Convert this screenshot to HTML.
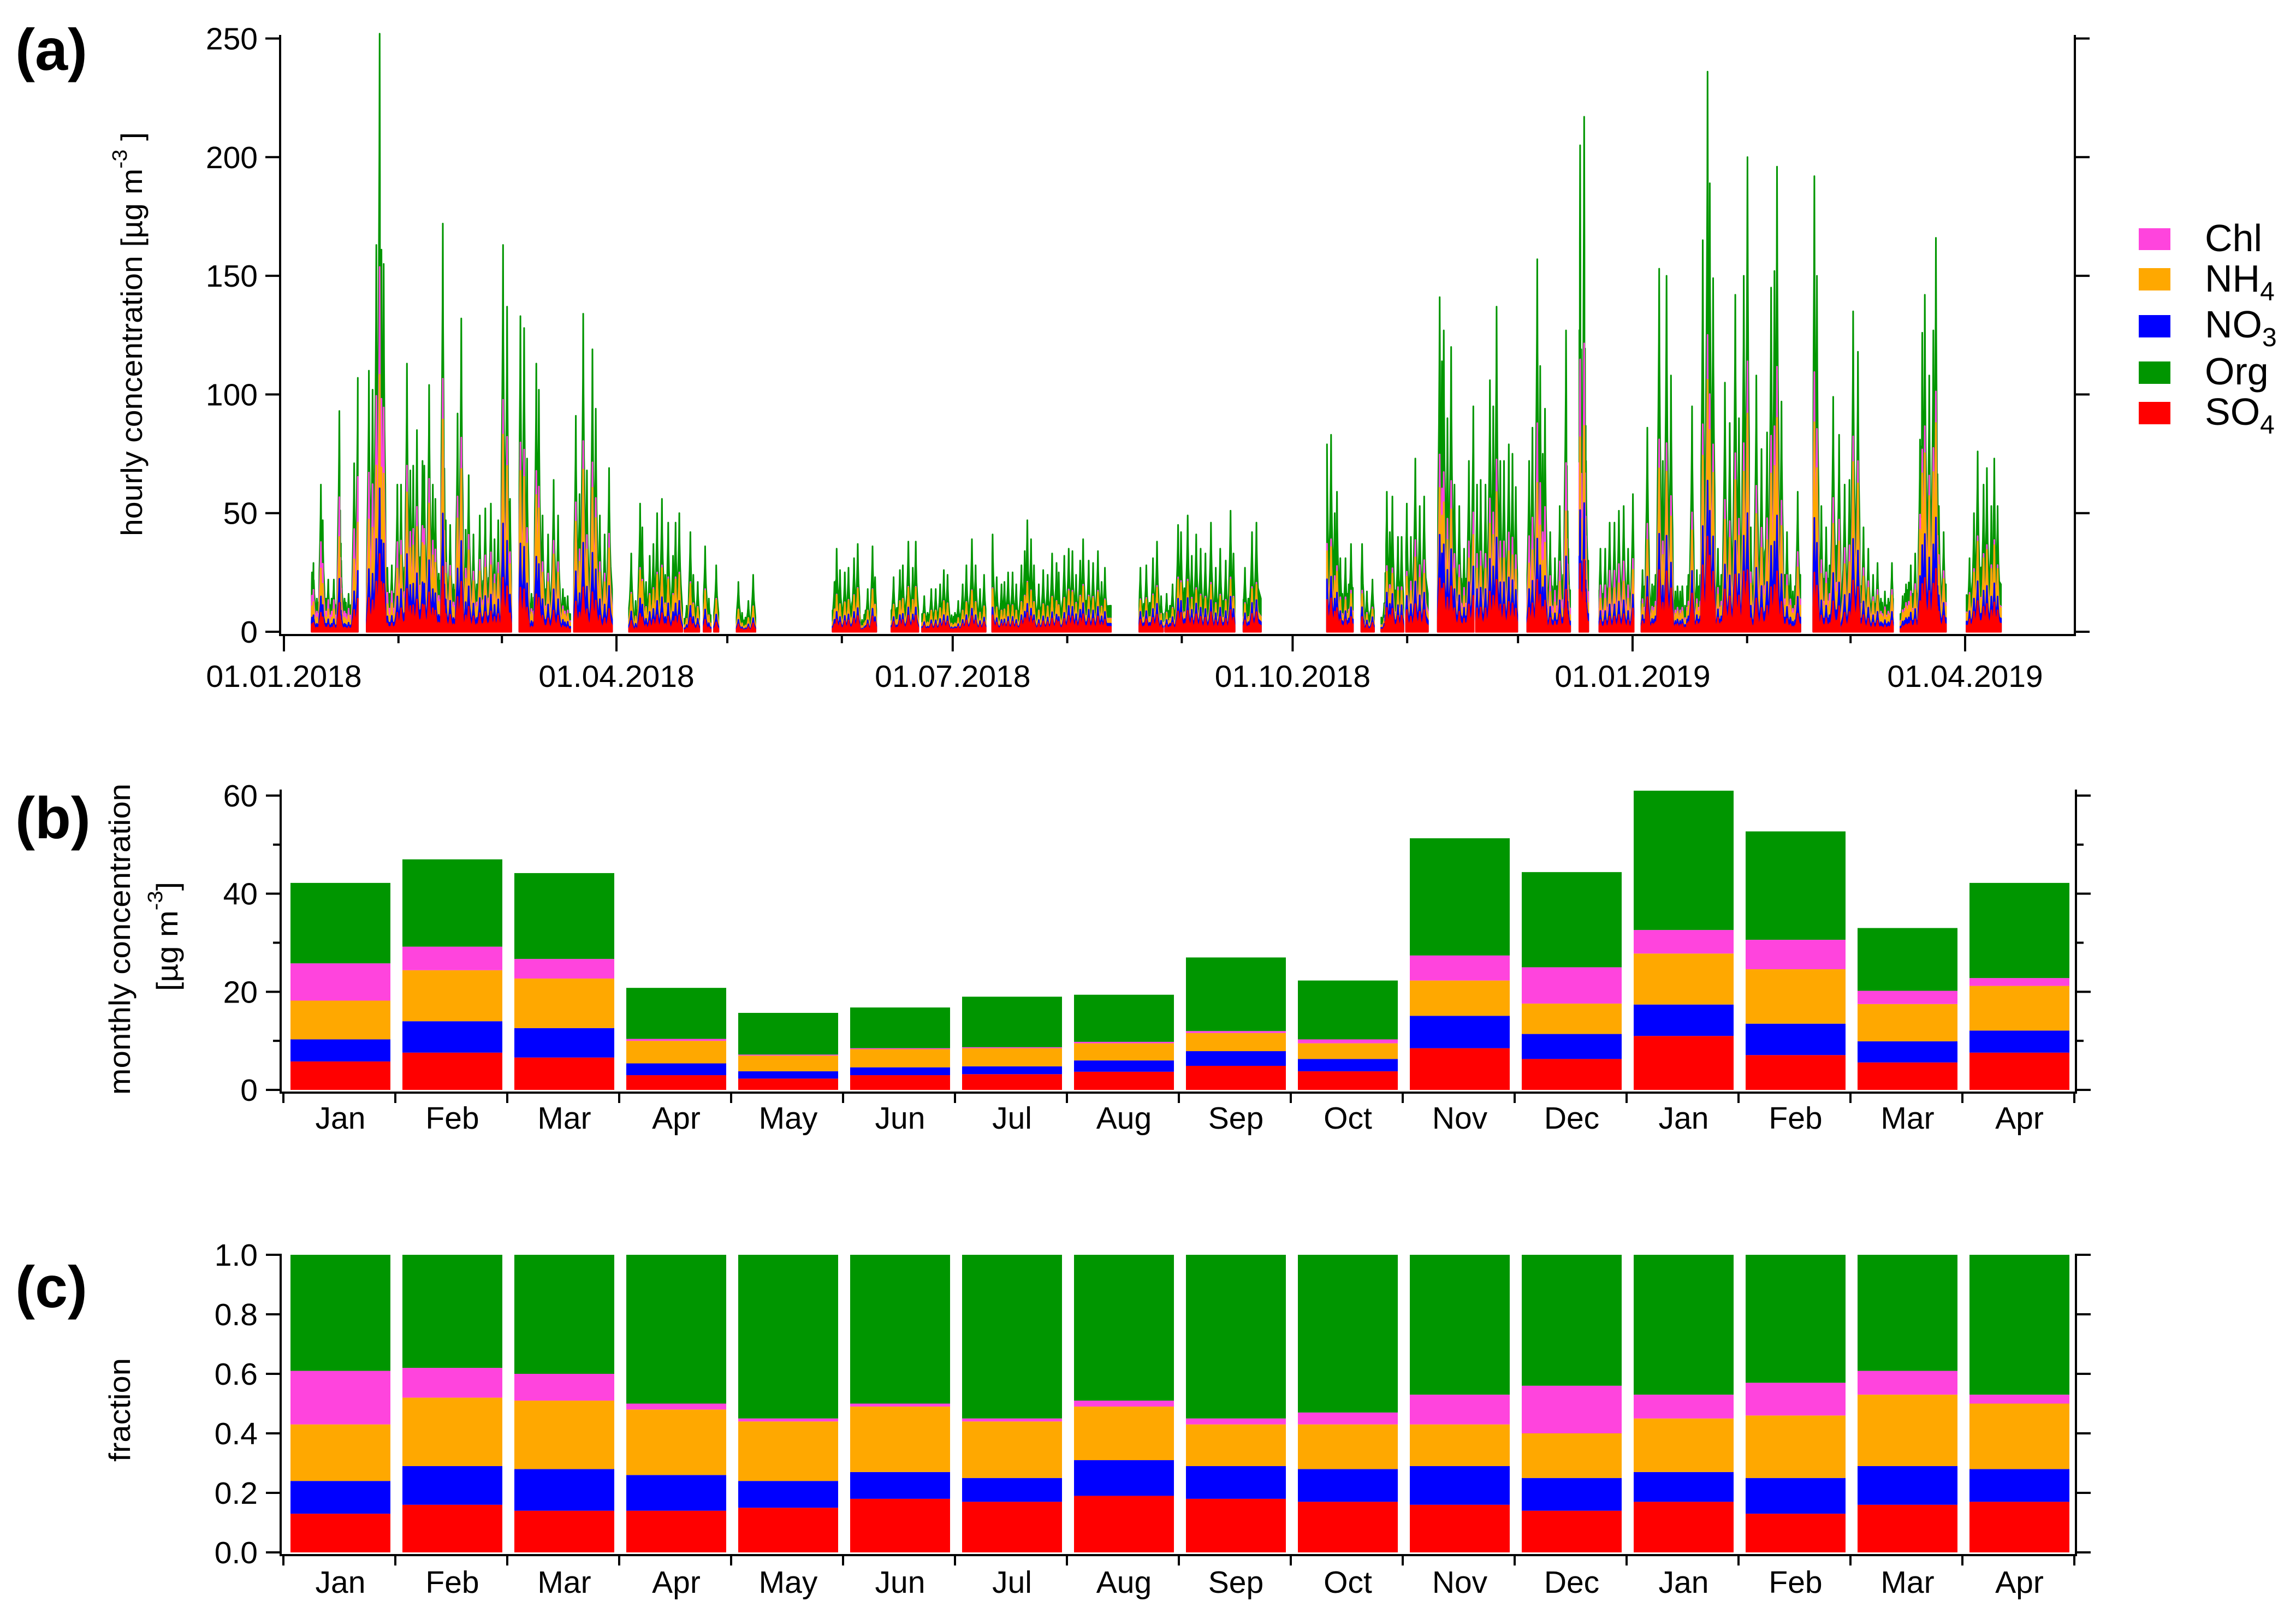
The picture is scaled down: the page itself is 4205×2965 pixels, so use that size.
<!DOCTYPE html>
<html><head><meta charset="utf-8"><style>
html,body{margin:0;padding:0;background:#fff;}
svg{display:block;font-family:"Liberation Sans",Arial,sans-serif;}
</style></head><body>
<svg id="fig" width="4205" height="2965" viewBox="0 0 4205 2965" xmlns="http://www.w3.org/2000/svg">
<g id="static">
<text x="28" y="128" font-size="108" font-weight="bold">(a)</text>
<text x="28" y="1535" font-size="108" font-weight="bold">(b)</text>
<text x="28" y="2394" font-size="108" font-weight="bold">(c)</text>
<text transform="translate(260,612) rotate(-90)" text-anchor="middle" font-size="55" textLength="740" lengthAdjust="spacingAndGlyphs">hourly concentration [µg m<tspan dy="-28" font-size="38">-3</tspan><tspan dy="28"> ]</tspan></text>
<text transform="translate(238,1720) rotate(-90)" text-anchor="middle" font-size="55" textLength="570" lengthAdjust="spacingAndGlyphs">monthly concentration</text>
<text transform="translate(325,1715) rotate(-90)" text-anchor="middle" font-size="55" textLength="200" lengthAdjust="spacingAndGlyphs">[µg m<tspan dy="-28" font-size="38">-3</tspan><tspan dy="28">]</tspan></text>
<text transform="translate(238,2582) rotate(-90)" text-anchor="middle" font-size="55" textLength="190" lengthAdjust="spacingAndGlyphs">fraction</text>
<g>
<rect x="3917" y="418" width="58" height="40" fill="#ff44dd"/>
<text x="4038" y="460" font-size="70">Chl</text>
<rect x="3917" y="491" width="58" height="41" fill="#ffa800"/>
<text x="4038" y="534" font-size="70">NH<tspan dy="16" font-size="48">4</tspan></text>
<rect x="3917" y="577" width="58" height="41" fill="#0000ff"/>
<text x="4038" y="618" font-size="70">NO<tspan dy="16" font-size="48">3</tspan></text>
<rect x="3917" y="662" width="58" height="41" fill="#009600"/>
<text x="4038" y="704" font-size="70">Org</text>
<rect x="3917" y="736" width="58" height="41" fill="#ff0000"/>
<text x="4038" y="778" font-size="70">SO<tspan dy="16" font-size="48">4</tspan></text>
</g>
</g>
</svg>
<script>
// ---- monthly concentrations (panel b), µg m-3 ----
const months = ["Jan","Feb","Mar","Apr","May","Jun","Jul","Aug","Sep","Oct","Nov","Dec","Jan","Feb","Mar","Apr"];
const so4 = [5.8,7.6,6.6,3.0,2.3,3.0,3.2,3.7,4.9,3.8,8.5,6.3,11.0,7.1,5.6,7.6];
const no3 = [4.5,6.4,6.0,2.4,1.5,1.6,1.6,2.3,3.0,2.5,6.6,5.1,6.4,6.4,4.3,4.5];
const nh4 = [7.9,10.4,10.1,4.6,3.2,3.7,3.7,3.5,3.7,3.2,7.2,6.2,10.4,11.1,7.6,9.1];
const chl = [7.6,4.8,4.0,0.4,0.2,0.2,0.2,0.3,0.4,0.8,5.1,7.4,4.8,6.0,2.7,1.6];
const org = [16.4,17.8,17.5,10.4,8.5,8.3,10.3,9.6,15.0,12.0,23.9,19.4,28.4,22.1,12.8,19.4];
// ---- monthly fractions (panel c) ----
const so4f = [.13,.16,.14,.14,.15,.18,.17,.19,.18,.17,.16,.14,.17,.13,.16,.17];
const no3f = [.11,.13,.14,.12,.09,.09,.08,.12,.11,.11,.13,.11,.10,.12,.13,.11];
const nh4f = [.19,.23,.23,.22,.20,.22,.19,.18,.14,.15,.14,.15,.18,.21,.24,.22];
const chlf = [.18,.10,.09,.02,.01,.01,.01,.02,.02,.04,.10,.16,.08,.11,.08,.03];
const orgf = [.39,.38,.40,.50,.55,.50,.55,.49,.55,.53,.47,.44,.47,.43,.39,.47];
// ---- hourly panel (a): measurement periods (days since 01.01.2018) ----
const segStart = [7.5,22.4,63.7,78.5,93.4,108.4,113.6,116.4,122.5,148.5,164.4,172.7,191.7,231.5,238.5,259.7,282.3,291.6,297,303.7,312.3,322.6,336.5,350.6,356,367.4,413.9,421.5,437.5,455.4];
const segEnd = [20,61.5,77.5,88.8,107.8,112.4,115.5,117.6,127.6,160.3,171.7,189.9,223.8,237.9,257.3,264.4,289.3,295,303,309.6,322,333.8,348.1,353,365.3,410.4,421.3,435.5,449.8,464.7];
const segBase = [14,20,18,18,10,6,8,8,6,9,9,8,11,9,11,14,20,8,10,16,28,24,24,30,20,24,28,14,20,20];
const peakDay = [7.6,8,10,10.5,12,13.5,15,15.5,17.5,19,20,
23,24,25,25.9,26.4,27,28,29.2,30.7,31.7,33.3,34.2,35,36,37.5,38,39.3,40.3,41,43,43.8,45,47,48,49.2,50,51.3,53,54.5,56,57,58,59.3,60.4,61.2,
64,65,65.8,67,68.3,69,70,71.5,73,74.2,75.5,76.8,
79,80,81,82,83.5,84.4,85.5,86.8,88,
94,95.2,96.4,97,98,99,100,101,102.3,103.2,104,105.3,106,107,
109,110,110.8,112,114,115,117,
123,124,125.7,127,
149,149.6,150.5,151.8,152.8,154.3,155.3,156.5,158,159.3,160,
165,166.7,167.5,169,170.2,171,
173.3,175.2,176.4,177.6,178.6,179.6,180.7,182.5,183.7,184.7,186.2,187.2,188.4,189.5,
191.8,192.9,194.2,195,196,197.2,198.2,199.6,200.5,201.2,202.2,203,204.3,205.5,206.7,207.9,209.1,209.7,211.2,212.4,213.4,214.4,215.5,216.3,217.8,219,220.3,221.3,222.2,
231.8,233.4,235.2,236.3,237.4,
238.9,240.5,242,242.8,244.6,245.7,246.9,248.1,249.4,250.9,252.2,253.4,254.9,256.2,257,
260.1,262,263.2,
282.3,283.4,284.4,285,285.9,287.3,288.8,
291.8,293.1,294.6,
297.8,298.5,299.3,300,301.5,302.5,
303.9,305,306.2,307.4,308.6,
312.8,313.4,313.9,314.9,315.9,316.8,318.1,319.4,320.7,321.9,
322.9,323.9,325.2,326.4,327.3,328.2,329.2,330.2,331.5,332.5,333.4,
337,337.9,339.2,340,340.7,341.3,342.7,344,345.3,347,347.6,
350.8,351.1,351.9,352.4,
356.3,357.6,358.8,360.1,361.3,362.6,363.8,365.1,
367.7,369,370.3,372.2,373.2,374.2,375.4,376.6,377.9,379.2,381.1,382.4,384,385.3,385.9,386.8,388.1,390,391.3,392.8,393.8,395.1,396.1,397,398.5,399.9,401.4,402.5,403.4,404.1,405.3,406.8,408.4,409.7,
414.2,414.9,416.1,417.4,419.3,420.9,
422.4,423.7,424.7,426,427.5,428.8,430.1,431.3,433.3,435.2,
438.1,440.3,441.5,442.8,443.4,444.1,445.3,446.4,447.1,447.9,449.2,
456.2,457.4,458.4,460,460.9,462.1,462.9,463.8];
const peakVal = [25,29,62,47,22,22,93,30,16,71,107,
110,102,163,252,161,155,27,28,62,62,113,68,70,85,72,70,104,62,56,172,47,45,92,132,43,66,41,49,52,54,39,47,163,137,56,
133,128,73,16,113,102,49,41,64,49,18,15,
91,58,134,68,119,94,49,41,69,
33,13,54,44,21,32,37,50,56,24,46,32,46,50,
11,42,24,21,36,14,28,
21,8,13,24,
21,35,26,25,27,31,37,5,18,36,23,
23,26,28,38,27,38,
15,18,18,20,26,24,7,13,20,28,39,28,18,24,
41,23,20,21,25,25,20,28,34,47,39,28,20,26,24,33,29,25,32,35,34,24,30,39,30,29,34,21,27,
27,28,31,38,15,
16,20,45,42,49,32,41,35,33,46,27,35,30,51,33,
27,42,46,
79,83,50,59,31,31,37,
37,17,22,
12,59,42,57,40,40,
54,40,73,53,57,
141,114,127,90,120,62,53,35,72,95,
62,64,62,106,95,137,72,72,79,75,61,
72,86,157,112,75,94,42,31,53,127,35,
205,119,217,72,
35,35,46,46,51,53,35,58,
26,86,20,153,72,150,108,17,17,11,95,26,165,236,189,149,35,105,88,142,90,150,200,44,108,77,84,145,152,196,97,42,17,59,
192,150,53,44,99,83,
62,64,135,118,44,35,24,29,17,29,
15,28,33,81,126,142,108,127,166,53,42,
31,50,76,62,69,53,73,53];
const yTicksA = [0,50,100,150,200,250];
const quarterDays = [0,90,181,273,365,455];
const quarterLabels = ["01.01.2018","01.04.2018","01.07.2018","01.10.2018","01.01.2019","01.04.2019"];
const yTicksB = [0,20,40,60];
const yTicksC = ["0.0","0.2","0.4","0.6","0.8","1.0"];

const NS = "http://www.w3.org/2000/svg";
const svg = document.getElementById("fig");
const COL = {so4:"#ff0000",no3:"#0000ff",nh4:"#ffa800",chl:"#ff44dd",org:"#009600"};
function mk(tag, attrs, parent){const e=document.createElementNS(NS,tag);for(const k in attrs)e.setAttribute(k,attrs[k]);(parent||svg).appendChild(e);return e;}

const xA = d => 520 + 6.767*d;
const yA = v => 1157 - 4.346*v;
const xB = i => 532 + 205*i;
const yB = v => 1996 - 8.983*v;
const yC = f => 2843 - 545*f;
const BW = 183;

function monthIdx(d){const dt=new Date(2018,0,1+Math.floor(d));return Math.min(15,Math.max(0,(dt.getFullYear()-2018)*12+dt.getMonth()));}
function cumFrac(m, layer){
  const parts=[so4f[m],no3f[m],nh4f[m],chlf[m],orgf[m]];
  const tot=parts.reduce((a,b)=>a+b,0);
  let s=0;for(let k=0;k<=layer;k++)s+=parts[k];
  return s/tot;
}

// ---------- panel (a) ----------
const gA = mk("g",{});


const layerNames=["so4","no3","nh4","chl","org"];
const wig=[1.0,0.7,1.25,0.85,1.1,0.6,1.3,0.9];
for(let s=0;s<segStart.length;s++){
  const a=segStart[s], b=segEnd[s], base=segBase[s];
  const pk=[];
  for(let p=0;p<peakDay.length;p++){const d=peakDay[p]; if(d>=a&&d<=b) pk.push([d,peakVal[p]]);}
  pk.sort((p,q)=>p[0]-q[0]);
  const pts=[[a,pk.length?Math.min(base,pk[0][1]*0.5):base]];
  for(let i=0;i<pk.length;i++){
    const [d,v]=pk[i];
    pts.push([Math.max(a,d-0.4),v*0.42],[Math.max(a,d-0.2),v*0.62],[Math.max(a,d-0.07),v*0.8],[d,v],[Math.min(b,d+0.08),v*0.75],[Math.min(b,d+0.22),v*0.55],[Math.min(b,d+0.42),v*0.4]);
    if(i<pk.length-1){
      const nd=pk[i+1][0], nv=pk[i+1][1];
      const gap=nd-d;
      const lv=Math.max(base*0.8,Math.min(v,nv)*0.35);
      let k=0;
      for(let t=0.55;t<gap-0.5;t+=0.18){
        pts.push([d+t,lv*wig[k%wig.length]]);k++;
      }
    }
  }
  pts.push([b,pk.length?Math.min(base,pk[pk.length-1][1]*0.5):base]);
  pts.sort((p,q)=>p[0]-q[0]);
  for(let L=4;L>=0;L--){
    let dstr="M"+xA(a).toFixed(1)+","+yA(0).toFixed(1);
    for(const [d,v] of pts){dstr+=" L"+xA(d).toFixed(1)+","+yA(v*cumFrac(monthIdx(d),L)).toFixed(1);}
    dstr+=" L"+xA(b).toFixed(1)+","+yA(0).toFixed(1)+" Z";
    const path=mk("path",{d:dstr,fill:COL[layerNames[L]],stroke:COL[layerNames[L]],"stroke-width":"3","stroke-linejoin":"round"},gA);
    
    
  }
}
// axes a
const axA = mk("g",{stroke:"#000","stroke-width":"4",fill:"none"});


mk("line",{x1:513,y1:64,x2:513,y2:1165},axA);
mk("line",{x1:511,y1:1163,x2:3802,y2:1163},axA);
mk("line",{x1:3800,y1:64,x2:3800,y2:1165},axA);
for(const v of yTicksA){
  mk("line",{x1:486,y1:yA(v),x2:513,y2:yA(v)},axA);
  mk("line",{x1:3800,y1:yA(v),x2:3827,y2:yA(v)},axA);
  const t=mk("text",{x:472,y:yA(v)+20,"font-size":57,"text-anchor":"end",fill:"#000",stroke:"none"});
  t.textContent=v;
  
  
}
for(let m=0;m<=15;m++){
  const dt=new Date(2018,m,1);const d=Math.round((dt-new Date(2018,0,1))/864e5);
  const major=quarterDays.indexOf(d)>=0;
  mk("line",{x1:xA(d),y1:1163,x2:xA(d),y2:major?1193:1178},axA);
}
quarterDays.forEach((d,i)=>{
  const t=mk("text",{x:xA(d),y:1258,"font-size":57,"text-anchor":"middle",fill:"#000",stroke:"none"});
  t.textContent=quarterLabels[i];
  
  
});

// ---------- panel (b) ----------
const gB=mk("g",{});


const seriesB=[so4,no3,nh4,chl,org];
months.forEach((m,i)=>{
  let cum=0;
  seriesB.forEach((arr,k)=>{
    const y1=yB(cum+arr[i]), y0=yB(cum);
    const r=mk("rect",{x:xB(i),y:y1,width:BW,height:Math.max(0,y0-y1),fill:COL[layerNames[k]]},gB);
    
    
    cum+=arr[i];
  });
});
const axB=mk("g",{stroke:"#000","stroke-width":"4",fill:"none"});


mk("line",{x1:514,y1:1446,x2:514,y2:2003},axB);
mk("line",{x1:512,y1:2001,x2:3804,y2:2001},axB);
mk("line",{x1:3802,y1:1446,x2:3802,y2:2003},axB);
for(let v=0;v<=60;v+=10){
  const major=yTicksB.indexOf(v)>=0;
  mk("line",{x1:major?487:500,y1:yB(v),x2:514,y2:yB(v)},axB);
  mk("line",{x1:3802,y1:yB(v),x2:major?3829:3816,y2:yB(v)},axB);
}
yTicksB.forEach(v=>{
  const t=mk("text",{x:472,y:yB(v)+20,"font-size":57,"text-anchor":"end",fill:"#000",stroke:"none"});
  t.textContent=v;
  
  
});
for(let i=0;i<=16;i++) mk("line",{x1:519+205*i,y1:2001,x2:519+205*i,y2:2020},axB);
months.forEach((m,i)=>{
  const t=mk("text",{x:xB(i)+BW/2,y:2067,"font-size":57,"text-anchor":"middle",fill:"#000",stroke:"none"});
  t.textContent=m;
  
  
});

// ---------- panel (c) ----------
const gC=mk("g",{});


const seriesC=[so4f,no3f,nh4f,chlf,orgf];
months.forEach((m,i)=>{
  let cum=0;
  seriesC.forEach((arr,k)=>{
    const y1=yC(cum+arr[i]), y0=yC(cum);
    const r=mk("rect",{x:xB(i),y:y1,width:BW,height:Math.max(0,y0-y1),fill:COL[layerNames[k]]},gC);
    
    
    cum+=arr[i];
  });
});
const axC=mk("g",{stroke:"#000","stroke-width":"4",fill:"none"});


mk("line",{x1:514,y1:2296,x2:514,y2:2850},axC);
mk("line",{x1:512,y1:2848,x2:3804,y2:2848},axC);
mk("line",{x1:3802,y1:2296,x2:3802,y2:2850},axC);
yTicksC.forEach(s=>{
  const v=parseFloat(s);
  mk("line",{x1:487,y1:yC(v),x2:514,y2:yC(v)},axC);
  mk("line",{x1:3802,y1:yC(v),x2:3829,y2:yC(v)},axC);
  const t=mk("text",{x:472,y:yC(v)+20,"font-size":57,"text-anchor":"end",fill:"#000",stroke:"none"});
  t.textContent=s;
  
  
});
for(let i=0;i<=16;i++) mk("line",{x1:519+205*i,y1:2848,x2:519+205*i,y2:2867},axC);
months.forEach((m,i)=>{
  const t=mk("text",{x:xB(i)+BW/2,y:2917,"font-size":57,"text-anchor":"middle",fill:"#000",stroke:"none"});
  t.textContent=m;
  
  
});
</script>
</body></html>
